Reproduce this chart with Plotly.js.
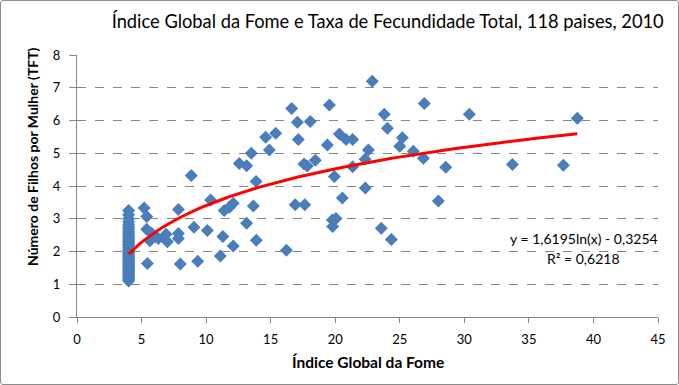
<!DOCTYPE html>
<html><head><meta charset="utf-8">
<script src="https://cdn.plot.ly/plotly-3.0.1.min.js"></script>
<style>
html,body{margin:0;padding:0;background:#fff;}
#wrap{position:relative;width:679px;height:385px;}
#chart{width:679px;height:385px;}
#frame{position:absolute;left:0;top:0;width:677px;height:383px;border:1px solid #8c8c8c;border-radius:3px;pointer-events:none;}
</style>
</head><body>
<div id="wrap"><div id="chart"></div><div id="frame"></div></div>
<script>
// Índice Global da Fome (x) and Taxa de Fecundidade Total (y)
const ghiLow = [4,4,4,4,4,4,4,4,4,4,4,4,4,4,4,4,4,4,4,4,4,4,4,4,4,4,4,4,4,4,4,4,4,4,4,4,4,4,4,4,4,4,4];
const tftLow = [3.25,3.12,3.0,2.9,2.82,2.75,2.68,2.6,2.55,2.5,2.45,2.4,2.35,2.3,2.26,2.22,2.18,2.12,2.07,2.02,1.98,1.94,1.9,1.86,1.82,1.78,1.74,1.7,1.66,1.62,1.58,1.54,1.5,1.46,1.42,1.38,1.34,1.3,1.26,1.22,1.18,1.14,1.1];
const ghiRest = [5.2,5.4,5.4,5.8,6.1,5.65,6.3,6.9,7.0,7.85,7.85,7.85,9.06,5.45,8.0,9.35,8.85,10.1,10.35,11.1,
  11.3,11.4,11.8,12.1,12.1,12.57,13.14,13.14,13.5,13.66,13.87,13.89,14.61,14.9,15.39,16.22,16.63,16.9,17.07,17.14,
  17.58,17.84,17.64,18.07,18.46,19.39,19.55,19.78,20.06,19.8,19.93,20.32,20.55,20.84,21.35,21.35,22.31,22.33,22.57,22.87,
  23.57,23.8,24.04,24.35,25.0,25.2,26.05,26.83,26.9,27.99,28.56,30.39,33.72,37.67,38.75];
const tftRest = [3.33,3.07,2.68,2.55,2.45,2.33,2.4,2.53,2.3,3.28,2.55,2.4,2.74,1.63,1.62,1.7,4.32,2.64,3.57,1.86,
  2.46,3.25,3.35,3.47,2.17,4.69,4.62,2.86,5.0,3.39,4.14,2.34,5.49,5.1,5.61,2.04,6.37,3.43,5.95,5.42,
  4.67,4.61,3.43,5.97,4.79,5.25,6.47,2.96,3.01,2.76,4.29,5.59,3.63,5.42,5.42,4.59,4.82,3.94,5.1,7.2,
  2.71,6.19,5.76,2.37,5.21,5.47,5.06,4.85,6.52,3.54,4.57,6.19,4.66,4.63,6.07];
// Logarithmic trendline as shown on the chart: y = a ln(x) + b
const trendCoef = [1.6195, -0.3254];
const trendRange = [4, 38.75];
const xTicks = [0,5,10,15,20,25,30,35,40,45];
const yTicks = [0,1,2,3,4,5,6,7,8];

const xs = ghiLow.concat(ghiRest);
const ys = tftLow.concat(tftRest);
const tx = [], ty = [];
for (let i = 0; i <= 120; i++) {
  const x = trendRange[0] + (trendRange[1] - trendRange[0]) * i / 120;
  tx.push(x); ty.push(trendCoef[0] * Math.log(x) + trendCoef[1]);
}
const font = "Lato, 'Open Sans', sans-serif";
const data = [
  {x: xs, y: ys, type: 'scatter', mode: 'markers', cliponaxis: false,
   marker: {symbol: 'diamond', size: 10, color: '#4a7ebb', line: {width: 0}}},
  {x: tx, y: ty, type: 'scatter', mode: 'lines', line: {color: '#ff0000', width: 3}}
];
const layout = {
  width: 679, height: 385, showlegend: false,
  paper_bgcolor: '#fff', plot_bgcolor: '#fff',
  margin: {l: 77, r: 21, t: 55, b: 68},
  font: {family: font, color: '#000', size: 13},
  title: {text: 'Índice Global da Fome e Taxa de Fecundidade Total, 118 paises, 2010',
    font: {family: font, size: 18.3, color: '#000'}, x: 0.571, xanchor: 'center', y: 0.943, yanchor: 'middle'},
  xaxis: {range: [0, 45], tickvals: xTicks, ticktext: xTicks.map(String), showgrid: false, zeroline: false,
    showline: true, linecolor: '#868686', linewidth: 1, ticks: 'outside', ticklen: 5, tickcolor: '#868686',
    tickfont: {size: 13}, ticklabelstandoff: 5, fixedrange: true},
  yaxis: {range: [0, 8], tickvals: yTicks, ticktext: yTicks.map(String), showgrid: true,
    gridcolor: '#868686', griddash: 'dash', gridwidth: 1, zeroline: false,
    showline: true, linecolor: '#868686', linewidth: 1, ticks: 'outside', ticklen: 7, tickcolor: '#868686',
    tickfont: {size: 13}, ticklabelstandoff: 6, fixedrange: true},
  annotations: [
    {xref: 'paper', yref: 'paper', x: 0.5, y: -0.172, xanchor: 'center', yanchor: 'middle', showarrow: false,
     text: '<b>Índice Global da Fome</b>', font: {size: 15.5}},
    {xref: 'paper', yref: 'paper', x: -0.0757, y: 0.611, xanchor: 'center', yanchor: 'middle', showarrow: false,
     textangle: -90, text: '<b>Número de Filhos por Mulher (TFT)</b>', font: {size: 14}},
    {xref: 'paper', yref: 'paper', x: 0.8726, y: 0.3015, xanchor: 'center', yanchor: 'middle', showarrow: false,
     text: 'y = 1,6195ln(x) - 0,3254', font: {size: 14}},
    {xref: 'paper', yref: 'paper', x: 0.8726, y: 0.225, xanchor: 'center', yanchor: 'middle', showarrow: false,
     text: 'R² = 0,6218', font: {size: 14}}
  ]
};
Plotly.newPlot('chart', data, layout, {displayModeBar: false, staticPlot: true});
</script>
</body></html>
